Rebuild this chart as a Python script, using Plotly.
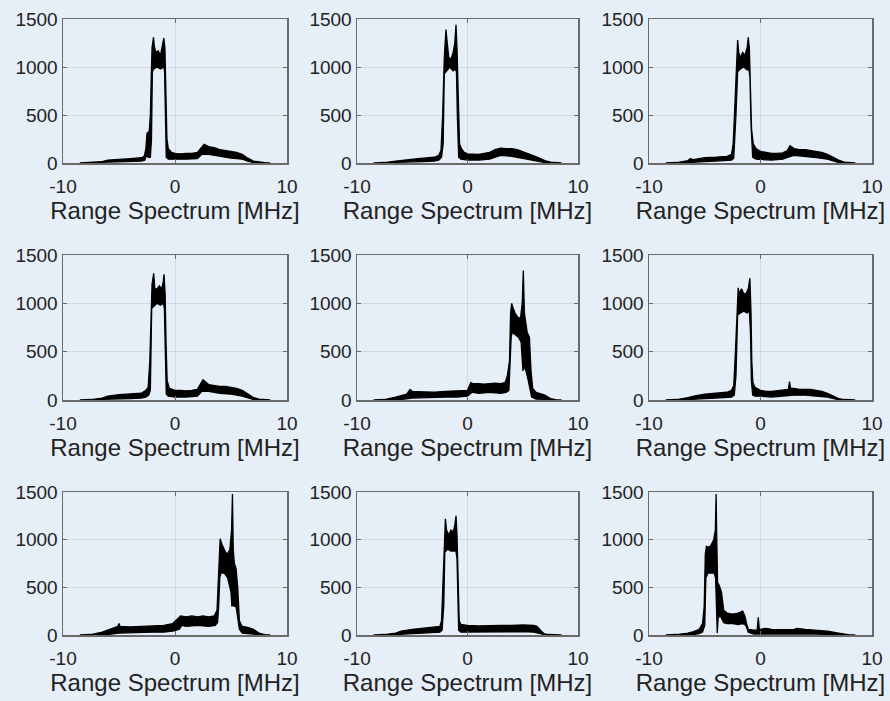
import plotly.graph_objects as go

# ---- data: upper / lower envelope of each spectrum ----
U1x = [-8.5,-7.5,-6.5,-6.0,-5.0,-4.0,-3.0,-2.75,-2.6,-2.5,-2.3,-2.2,-2.12,-2.05,-1.92,-1.85,-1.7,-1.5,-1.3,-1.15,-1.0,-0.9,-0.82,-0.72,-0.6,-0.3,0.0,0.5,1.0,1.5,2.0,2.3,2.6,3.0,3.5,4.0,4.5,5.0,5.5,6.0,6.5,7.0,7.5,8.0,8.5]
U1y = [0,5,15,30,35,45,55,70,150,310,330,500,900,1200,1310,1220,1150,1170,1120,1200,1300,1200,700,250,150,110,100,95,100,100,110,150,195,170,160,140,130,120,110,90,50,20,8,3,0]
L1x = [-8.5,-7.0,-6.0,-5.0,-4.0,-3.0,-2.7,-2.55,-2.4,-2.2,-2.1,-2.02,-1.9,-1.6,-1.3,-1.0,-0.93,-0.85,-0.78,-0.6,0.0,1.0,2.0,2.4,3.0,4.0,5.0,6.0,6.5,7.0,8.5]
L1y = [0,0,5,10,15,20,30,80,60,60,250,950,980,1000,980,1000,950,500,60,40,40,40,45,90,90,70,50,40,20,5,0]

U2x = [-8.5,-7.5,-6.5,-5.5,-4.5,-3.5,-3.0,-2.6,-2.4,-2.25,-2.1,-1.95,-1.85,-1.7,-1.5,-1.3,-1.15,-1.04,-0.95,-0.85,-0.72,-0.55,-0.3,0,0.5,1,1.5,2,2.5,3,3.5,4,4.5,5,5.5,6,6.5,7,7.5,8,8.5]
U2y = [0,5,20,35,45,55,60,80,130,500,1100,1390,1250,1100,1080,1150,1250,1440,1200,600,200,150,110,95,90,90,100,110,140,155,150,150,140,120,100,75,50,25,10,3,0]
L2x = [-8.5,-7,-6,-5,-4,-3,-2.6,-2.35,-2.2,-2.1,-1.9,-1.6,-1.3,-1.1,-1.0,-0.92,-0.8,-0.6,0,1,2,2.5,3,4,5,6,6.5,7,8.5]
L2y = [0,0,5,10,15,20,30,60,200,930,960,1000,960,980,950,500,60,40,30,30,40,60,80,70,50,30,15,5,0]

U3x = [-8.5,-7.5,-6.5,-6.3,-6.0,-5.0,-4.0,-3.0,-2.6,-2.45,-2.3,-2.15,-2.05,-1.95,-1.8,-1.6,-1.4,-1.2,-1.1,-1.0,-0.9,-0.8,-0.65,-0.4,0,0.5,1,1.5,2,2.4,2.65,3,3.5,4,4.5,5,5.5,6,6.5,7,7.5,8,8.5]
U3y = [0,5,25,45,35,55,60,70,90,200,600,1100,1280,1150,1100,1150,1120,1200,1310,1200,800,350,200,150,120,110,100,100,105,130,180,150,140,140,130,120,110,90,60,30,10,3,0]
L3x = [-8.5,-7,-6,-5,-4,-3,-2.6,-2.4,-2.3,-2.2,-2.05,-1.8,-1.5,-1.2,-1.05,-0.95,-0.85,-0.7,-0.4,0,1,2,2.5,3,4,5,6,6.5,7,8.5]
L3y = [0,0,5,15,20,25,30,50,200,500,950,980,1000,970,980,900,400,60,40,40,30,40,60,80,70,55,40,20,5,0]

U4x = [-8.5,-7.5,-6.5,-6,-5,-4,-3,-2.6,-2.4,-2.25,-2.15,-2.05,-1.9,-1.8,-1.6,-1.4,-1.2,-1.05,-0.98,-0.88,-0.8,-0.7,-0.5,0,0.5,1,1.5,2,2.3,2.5,3,3.5,4,4.5,5,5.5,6,6.5,7,7.5,8,8.5]
U4y = [0,5,20,40,55,60,70,100,130,400,900,1200,1310,1150,1150,1180,1150,1220,1300,1100,600,200,120,100,100,95,100,110,170,210,160,150,140,140,130,120,100,60,25,10,3,0]
L4x = [-8.5,-7,-6,-5,-4,-3,-2.6,-2.35,-2.2,-2.08,-1.9,-1.6,-1.3,-1.05,-0.95,-0.87,-0.78,-0.6,0,1,2,2.4,3,4,5,6,6.5,7,8.5]
L4y = [0,0,5,10,15,20,30,50,100,950,970,1000,980,1000,950,400,60,40,30,30,40,90,90,70,60,40,20,5,0]

U5x = [-8.5,-7.5,-6.5,-5.5,-5.2,-5.0,-4.0,-3.0,-2.0,-1.0,0.0,0.3,0.5,1,1.5,2,2.5,3,3.4,3.6,3.8,3.9,4.0,4.1,4.3,4.6,4.8,4.95,5.05,5.15,5.25,5.4,5.6,5.75,5.9,6.2,7,7.5,8,8.5]
U5y = [0,5,30,60,110,90,85,80,90,95,100,180,170,170,165,170,175,170,180,250,400,900,1000,960,900,850,850,1000,1340,900,800,700,650,300,120,80,50,15,3,0]
L5x = [-8.5,-7,-6,-5,-4,-3,-2,-1,0,0.3,0.5,1,2,3,3.5,3.75,3.85,3.95,4.05,4.3,4.6,4.85,4.95,5.02,5.1,5.3,5.5,5.65,5.8,6.2,7,7.5,8.5]
L5y = [0,0,5,20,25,25,30,30,40,70,80,70,80,70,80,100,300,650,700,680,650,600,500,300,350,300,200,100,30,10,5,0,0]

U6x = [-8.5,-7.5,-6.5,-6,-5,-4,-3,-2.6,-2.4,-2.25,-2.1,-2.0,-1.9,-1.7,-1.5,-1.3,-1.1,-0.95,-0.85,-0.78,-0.68,-0.5,0,0.5,1,1.5,2,2.5,2.6,2.7,3,3.5,4,4.5,5,5.5,6,6.5,7,7.5,8,8.5]
U6y = [0,5,25,40,60,70,80,100,150,500,1000,1160,1100,1150,1100,1100,1150,1260,900,400,180,130,100,90,90,95,100,110,190,120,120,110,110,110,100,90,70,40,15,5,0,0]
L6x = [-8.5,-7,-6,-5,-4,-3,-2.6,-2.35,-2.2,-2.05,-1.8,-1.5,-1.2,-1.0,-0.9,-0.82,-0.7,-0.5,0,1,2,3,4,5,6,6.5,7,8.5]
L6y = [0,0,5,15,20,25,30,50,250,880,900,920,900,920,700,200,50,40,40,30,40,50,50,40,30,15,3,0]

U7x = [-8.5,-7.5,-6.5,-5.5,-5.1,-5.0,-4.9,-4,-3,-2,-1,-0.2,0.3,0.5,1,1.5,2,2.5,3,3.5,3.75,3.85,3.95,4.03,4.2,4.5,4.7,4.9,5.05,5.13,5.2,5.3,5.45,5.6,5.75,6,6.5,7,7.5,8,8.5]
U7y = [0,5,30,70,90,120,90,85,90,95,100,120,180,200,190,200,190,200,190,200,260,500,900,1010,950,870,850,900,1100,1480,900,750,700,500,150,90,80,60,20,3,0]
L7x = [-8.5,-7,-6,-5,-4,-3,-2,-1,-0.2,0.4,0.6,1,2,3,3.6,3.8,3.9,4.0,4.1,4.4,4.7,5.0,5.08,5.15,5.3,5.45,5.6,5.75,6,7,7.5,8.5]
L7y = [0,0,5,20,25,25,30,30,40,60,100,90,100,90,100,130,300,600,650,650,600,450,300,320,300,300,200,60,20,10,0,0]

U8x = [-8.5,-7.5,-6.5,-6,-5,-4,-3,-2.5,-2.35,-2.2,-2.1,-2.0,-1.9,-1.7,-1.5,-1.3,-1.15,-1.04,-0.95,-0.85,-0.75,-0.6,0,1,2,3,4,5,6,6.3,6.6,6.9,7.3,7.8,8.5]
U8y = [0,5,20,40,60,70,80,90,150,600,1100,1220,1100,1050,1100,1080,1150,1250,1050,500,150,110,100,95,100,100,100,105,100,90,50,15,5,0,0]
L8x = [-8.5,-7,-6,-5,-4,-3,-2.5,-2.3,-2.15,-2.05,-1.8,-1.5,-1.2,-1.05,-0.95,-0.87,-0.8,-0.6,0,1,2,3,4,5,6,6.5,7,8.5]
L8y = [0,0,5,15,20,25,30,50,300,870,900,880,880,880,800,300,50,30,30,30,30,35,35,35,30,15,3,0]

U9x = [-8.5,-7.5,-6.5,-6,-5.5,-5.2,-5.05,-4.95,-4.85,-4.6,-4.4,-4.2,-4.05,-3.98,-3.92,-3.85,-3.7,-3.5,-3.3,-3.0,-2.5,-2.0,-1.6,-1.4,-1.25,-1.1,-0.6,-0.3,-0.2,-0.1,0,0.5,1,2,3,3.3,4,5,6,7,7.5,8,8.5]
U9y = [0,5,20,35,60,120,300,850,930,920,950,1000,1100,1480,1000,550,520,450,260,230,220,230,250,200,120,60,50,50,185,50,60,70,60,55,60,70,60,50,40,20,8,0,0]
L9x = [-8.5,-7,-6,-5.5,-5.2,-5.0,-4.9,-4.7,-4.4,-4.15,-4.03,-3.95,-3.88,-3.8,-3.6,-3.3,-3,-2.5,-2,-1.6,-1.3,-1.1,-0.6,0,1,2,3,4,5,6,7,8.5]
L9y = [0,0,5,15,30,100,600,650,650,650,600,300,20,180,200,130,120,120,110,120,100,30,10,10,10,10,10,10,10,5,0,0]

X_TICKS = [-10, 0, 10]
X_TICK_LABELS = ["-10", "0", "10"]
Y_TICKS = [0, 500, 1000, 1500]
X_TITLE = "Range Spectrum [MHz]"

panels = [
    (U1x, U1y, L1x, L1y), (U2x, U2y, L2x, L2y), (U3x, U3y, L3x, L3y),
    (U4x, U4y, L4x, L4y), (U5x, U5y, L5x, L5y), (U6x, U6y, L6x, L6y),
    (U7x, U7y, L7x, L7y), (U8x, U8y, L8x, L8y), (U9x, U9y, L9x, L9y),
]

# ---- layout geometry (pixels in an 890x701 page) ----
W, H = 890, 701
col_px = [(63, 287), (357, 578), (649, 872)]
row_px = [(19, 163), (255, 400), (492, 635)]

BG = "#e6eef8"
AX = "#6a6a6a"
FONT = "Liberation Sans, Arial, Helvetica, sans-serif"

fig = go.Figure()
layout = dict(
    width=W, height=H,
    margin=dict(l=0, r=0, t=0, b=0, autoexpand=False),
    paper_bgcolor=BG, plot_bgcolor=BG,
    showlegend=False,
    font=dict(family=FONT, color="#222222", size=19),
)

for i, (ux, uy, lx, ly) in enumerate(panels):
    r, c = divmod(i, 3)
    k = "" if i == 0 else str(i + 1)
    xs = ux + lx[::-1]
    ys = uy + ly[::-1]
    fig.add_trace(go.Scatter(
        x=xs, y=ys, mode="lines", fill="toself",
        fillcolor="black", line=dict(color="black", width=1.3),
        xaxis="x" + k, yaxis="y" + k, hoverinfo="skip",
    ))
    x0, x1 = col_px[c]
    y0, y1 = row_px[r]
    common = dict(
        showline=True, linecolor=AX, linewidth=1.5, mirror="ticks",
        ticks="inside", ticklen=4, tickcolor=AX, tickwidth=1,
        showgrid=True, gridcolor="rgba(0,0,0,0.09)", gridwidth=1,
        zeroline=False, automargin=False,
        tickfont=dict(size=19, family=FONT, color="#222222"),
    )
    layout["xaxis" + k] = dict(
        domain=[x0 / W, x1 / W], range=[-10, 10],
        tickmode="array", tickvals=X_TICKS, ticktext=X_TICK_LABELS,
        anchor="y" + k, ticklabelstandoff=6,
        title=dict(text=X_TITLE, font=dict(size=24, family=FONT, color="#222222"), standoff=5),
        **common,
    )
    layout["yaxis" + k] = dict(
        domain=[1 - y1 / H, 1 - y0 / H], range=[0, 1500], tickvals=Y_TICKS,
        anchor="x" + k, ticklabelstandoff=0, **common,
    )

fig.update_layout(**layout)
fig.write_html(
    "out.html",
    config={"displayModeBar": False, "staticPlot": True},
    post_script="document.body.style.margin='0px';document.body.style.background='" + BG + "';document.body.style.overflow='hidden';",
)
